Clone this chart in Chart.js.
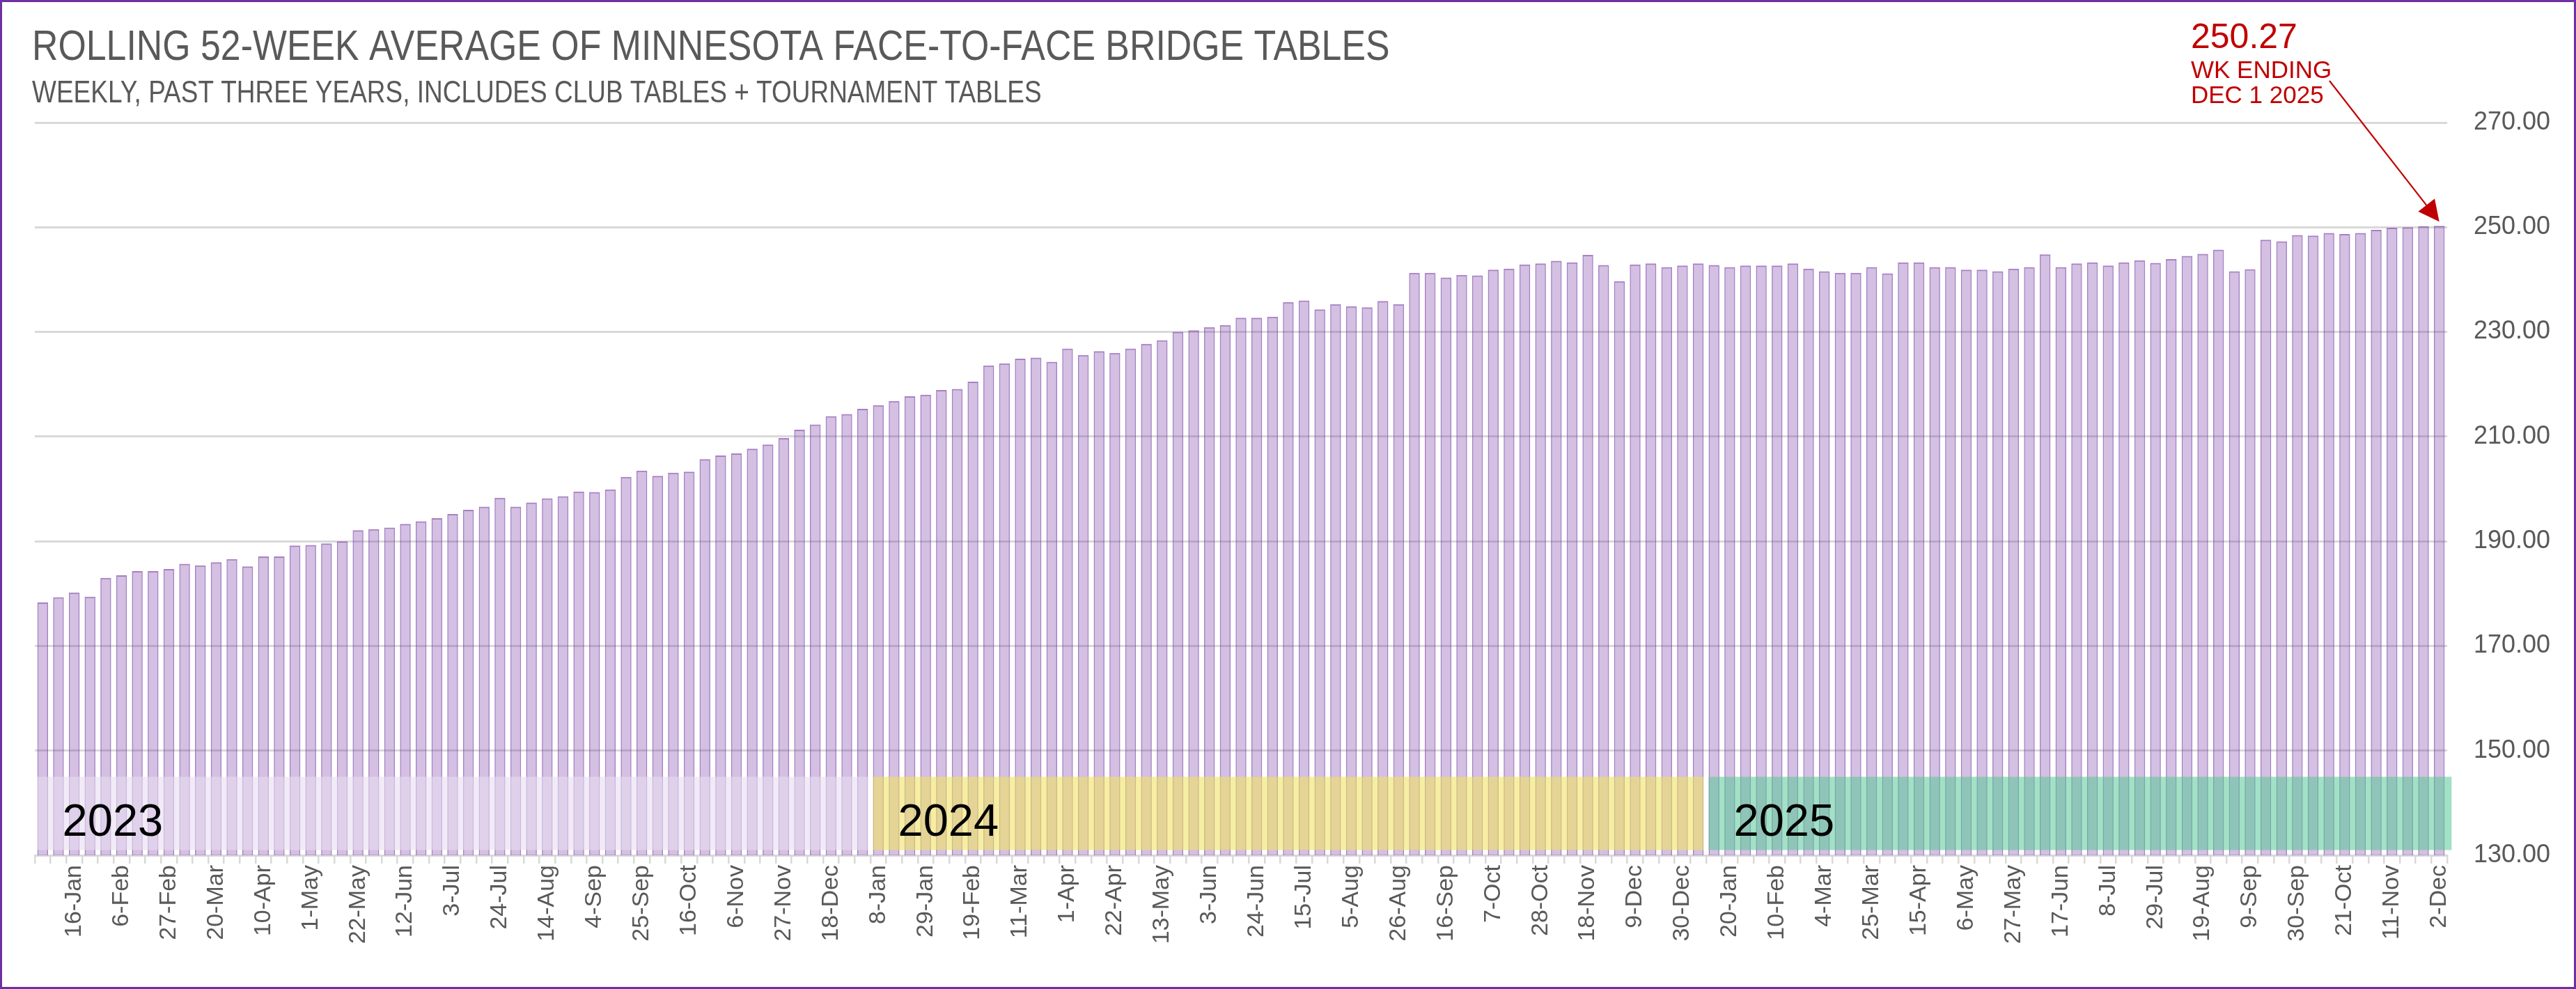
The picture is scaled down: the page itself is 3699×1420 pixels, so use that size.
<!DOCTYPE html>
<html>
<head>
<meta charset="utf-8">
<script src="https://cdn.jsdelivr.net/npm/chart.js@4.4.1/dist/chart.umd.min.js"></script>
<style>
  html, body { margin: 0; padding: 0; background: #ffffff; }
  #c { display: block; }
</style>
</head>
<body>
<canvas id="c" width="3699" height="1420"></canvas>
<script>
// ---------- DATA ----------
const weekLabels = (
  "2-Jan 9-Jan 16-Jan 23-Jan 30-Jan 6-Feb 13-Feb 20-Feb 27-Feb 6-Mar 13-Mar 20-Mar 27-Mar " +
  "3-Apr 10-Apr 17-Apr 24-Apr 1-May 8-May 15-May 22-May 29-May 5-Jun 12-Jun 19-Jun 26-Jun " +
  "3-Jul 10-Jul 17-Jul 24-Jul 31-Jul 7-Aug 14-Aug 21-Aug 28-Aug 4-Sep 11-Sep 18-Sep 25-Sep " +
  "2-Oct 9-Oct 16-Oct 23-Oct 30-Oct 6-Nov 13-Nov 20-Nov 27-Nov 4-Dec 11-Dec 18-Dec 25-Dec " +
  "1-Jan 8-Jan 15-Jan 22-Jan 29-Jan 5-Feb 12-Feb 19-Feb 26-Feb 4-Mar 11-Mar 18-Mar 25-Mar " +
  "1-Apr 8-Apr 15-Apr 22-Apr 29-Apr 6-May 13-May 20-May 27-May 3-Jun 10-Jun 17-Jun 24-Jun " +
  "1-Jul 8-Jul 15-Jul 22-Jul 29-Jul 5-Aug 12-Aug 19-Aug 26-Aug 2-Sep 9-Sep 16-Sep 23-Sep 30-Sep " +
  "7-Oct 14-Oct 21-Oct 28-Oct 4-Nov 11-Nov 18-Nov 25-Nov 2-Dec 9-Dec 16-Dec 23-Dec 30-Dec " +
  "6-Jan 13-Jan 20-Jan 27-Jan 3-Feb 10-Feb 17-Feb 24-Feb 4-Mar 11-Mar 18-Mar 25-Mar " +
  "1-Apr 8-Apr 15-Apr 22-Apr 29-Apr 6-May 13-May 20-May 27-May 3-Jun 10-Jun 17-Jun 24-Jun " +
  "1-Jul 8-Jul 15-Jul 22-Jul 29-Jul 5-Aug 12-Aug 19-Aug 26-Aug 2-Sep 9-Sep 16-Sep 23-Sep 30-Sep " +
  "7-Oct 14-Oct 21-Oct 28-Oct 4-Nov 11-Nov 18-Nov 25-Nov 2-Dec"
).split(" ");

const avgTables = [
  178.3,179.3,180.2,179.4,183.0,183.5,184.3,184.3,184.7,185.7,
  185.4,186.0,186.6,185.2,187.1,187.1,189.2,189.3,189.6,190.0,
  192.1,192.3,192.6,193.3,193.8,194.4,195.2,196.0,196.6,198.3,
  196.6,197.4,198.2,198.6,199.5,199.4,199.9,202.3,203.5,202.5,
  203.1,203.3,205.7,206.4,206.8,207.7,208.5,209.7,211.3,212.3,
  213.9,214.3,215.3,216.0,216.8,217.7,218.0,218.9,219.1,220.5,
  223.6,224.0,224.9,225.1,224.3,226.8,225.6,226.3,226.0,226.8,
  227.7,228.4,230.0,230.3,230.9,231.3,232.7,232.7,232.9,235.7,
  236.0,234.3,235.3,234.9,234.7,235.9,235.3,241.3,241.3,240.4,
  240.9,240.8,241.9,242.1,242.9,243.1,243.6,243.3,244.7,242.8,
  239.7,242.9,243.1,242.4,242.7,243.1,242.8,242.4,242.7,242.7,
  242.7,243.1,242.1,241.6,241.3,241.3,242.4,241.2,243.3,243.3,
  242.4,242.4,241.9,241.9,241.6,242.1,242.4,244.8,242.4,243.1,
  243.3,242.7,243.3,243.7,243.2,243.9,244.5,244.9,245.7,241.6,
  242.0,247.6,247.3,248.5,248.4,248.9,248.7,248.9,249.5,249.9,
  250.0,250.2,250.27
];

const yearNames = ["2023", "2024", "2025"];
const yearStartIdx = [0, 53, 106];
const yearEndIdx = [52, 105, 152];
const bandLow = 131;
const bandHigh = 145;

const yMin = 130, yMax = 270, yStep = 20;

const titleText = "ROLLING 52-WEEK AVERAGE OF MINNESOTA FACE-TO-FACE BRIDGE TABLES";
const subtitleText = "WEEKLY, PAST THREE YEARS, INCLUDES CLUB TABLES + TOURNAMENT TABLES";
const calloutLines = ["250.27", "WK ENDING", "DEC 1 2025"];

// ---------- STYLE ----------
const yearColors = ["rgba(232,220,242,0.6)", "rgba(240,225,95,0.58)", "rgba(85,200,150,0.55)"];
const RED = "#C00000";
const GRAY = "#595959";
const BAR_FRAC = 0.68;

function hasFont(ctx, fam) {
  ctx.font = '40px "' + fam + '", monospace';
  const a = ctx.measureText("ABCDEFGHIJ 0123").width;
  ctx.font = '40px monospace';
  const b = ctx.measureText("ABCDEFGHIJ 0123").width;
  return Math.abs(a - b) > 0.5;
}

const deco = {
  id: "deco",
  beforeDraw(chart) {
    const ctx = chart.ctx;
    ctx.save();
    ctx.fillStyle = "#ffffff";
    ctx.fillRect(0, 0, chart.width, chart.height);
    ctx.restore();
  },
  afterDatasetsDraw(chart) {
    const ctx = chart.ctx;
    const xs = chart.scales.x, ys = chart.scales.y;
    const slot = xs.getPixelForValue(1) - xs.getPixelForValue(0);
    const half = slot * BAR_FRAC / 2;
    const t = ys.getPixelForValue(bandHigh), b = ys.getPixelForValue(bandLow);
    ctx.save();
    for (let k = 0; k < yearNames.length; k++) {
      const l = xs.getPixelForValue(yearStartIdx[k]) - half;
      let r = xs.getPixelForValue(yearEndIdx[k]) + half;
      if (k === yearNames.length - 1) r += 10;
      ctx.fillStyle = yearColors[k];
      ctx.fillRect(l, t, r - l, b - t);
      ctx.fillStyle = "#000000";
      ctx.font = '65px "Liberation Sans", Arial, sans-serif';
      ctx.textBaseline = "alphabetic";
      ctx.textAlign = "left";
      ctx.fillText(yearNames[k], l + 36, b - 20);
    }
    ctx.restore();
  },
  afterDraw(chart) {
    const ctx = chart.ctx;
    const xs = chart.scales.x, ys = chart.scales.y;
    const narrow = hasFont(ctx, "Liberation Sans Narrow");
    ctx.save();
    // Title & subtitle
    ctx.fillStyle = GRAY;
    ctx.textBaseline = "alphabetic";
    ctx.textAlign = "left";
    if (narrow) {
      ctx.font = '62px "Liberation Sans Narrow", sans-serif';
      ctx.fillText(titleText, 46, 86);
      ctx.font = '44px "Liberation Sans Narrow", sans-serif';
      ctx.fillText(subtitleText, 46, 147);
    } else {
      ctx.save(); ctx.translate(46, 0); ctx.scale(0.85, 1);
      ctx.font = '61px "Liberation Sans", sans-serif';
      ctx.fillText(titleText, 0, 86);
      ctx.font = '43.5px "Liberation Sans", sans-serif';
      ctx.fillText(subtitleText, 0, 147);
      ctx.restore();
    }
    // Callout
    ctx.fillStyle = RED;
    ctx.font = '50px "Liberation Sans", Arial, sans-serif';
    ctx.fillText(calloutLines[0], 3146, 69);
    ctx.font = '35px "Liberation Sans", Arial, sans-serif';
    ctx.fillText(calloutLines[1], 3146, 112);
    ctx.fillText(calloutLines[2], 3146, 148);
    // Arrow to last bar
    const last = avgTables.length - 1;
    const tipX = xs.getPixelForValue(last);
    const tipY = ys.getPixelForValue(avgTables[last]) - 6;
    const sx = 3345, sy = 116;
    const dx = tipX - sx, dy = tipY - sy, len = Math.hypot(dx, dy);
    const ux = dx / len, uy = dy / len;
    const headL = 30, headW = 15;
    const bx = tipX - ux * headL, by = tipY - uy * headL;
    ctx.strokeStyle = RED;
    ctx.lineWidth = 2.2;
    ctx.beginPath(); ctx.moveTo(sx, sy); ctx.lineTo(bx, by); ctx.stroke();
    ctx.beginPath();
    ctx.moveTo(tipX, tipY);
    ctx.lineTo(bx - uy * headW, by + ux * headW);
    ctx.lineTo(bx + uy * headW, by - ux * headW);
    ctx.closePath();
    ctx.fill();
    // Outer frame
    ctx.strokeStyle = "#7030A0";
    ctx.lineWidth = 3;
    ctx.strokeRect(1.5, 1.5, chart.width - 3, chart.height - 3);
    ctx.restore();
  }
};

new Chart(document.getElementById("c"), {
  type: "bar",
  data: {
    labels: weekLabels,
    datasets: [{
      label: "Rolling 52-week average",
      data: avgTables,
      backgroundColor: "rgba(112,48,160,0.30)",
      borderColor: "rgba(112,48,160,0.62)",
      borderWidth: { top: 2, left: 1.5, right: 1.5, bottom: 0 },
      borderSkipped: "start",
      barPercentage: BAR_FRAC,
      categoryPercentage: 1.0
    }]
  },
  options: {
    responsive: false,
    animation: false,
    devicePixelRatio: 1,
    layout: { padding: { left: 50, top: 176, right: 0, bottom: 0 } },
    plugins: {
      legend: { display: false },
      tooltip: { enabled: false },
      title: { display: false }
    },
    scales: {
      x: {
        offset: true,
        grid: {
          display: true, drawOnChartArea: false, drawTicks: true,
          tickLength: 12, offset: true, color: "#D9D9D9", lineWidth: 2.5
        },
        border: { display: true, color: "#D9D9D9", width: 3 },
        ticks: {
          autoSkip: false, maxRotation: 90, minRotation: 90, padding: 2,
          color: GRAY,
          font: { family: '"Liberation Sans", Arial, sans-serif', size: 34 },
          callback: (v, i) => (i % 3 === 2 ? weekLabels[i] : "")
        },
        afterFit: (s) => { s.height = 192; }
      },
      y: {
        position: "right",
        min: yMin, max: yMax,
        ticks: {
          stepSize: yStep, padding: 38, color: GRAY,
          font: { family: '"Liberation Sans", Arial, sans-serif', size: 36 },
          callback: (v) => Number(v).toFixed(2)
        },
        grid: { color: "#D9D9D9", lineWidth: 3, drawTicks: false },
        border: { display: false },
        afterFit: (s) => { s.width = 185; }
      }
    }
  },
  plugins: [deco]
});
</script>
</body>
</html>
